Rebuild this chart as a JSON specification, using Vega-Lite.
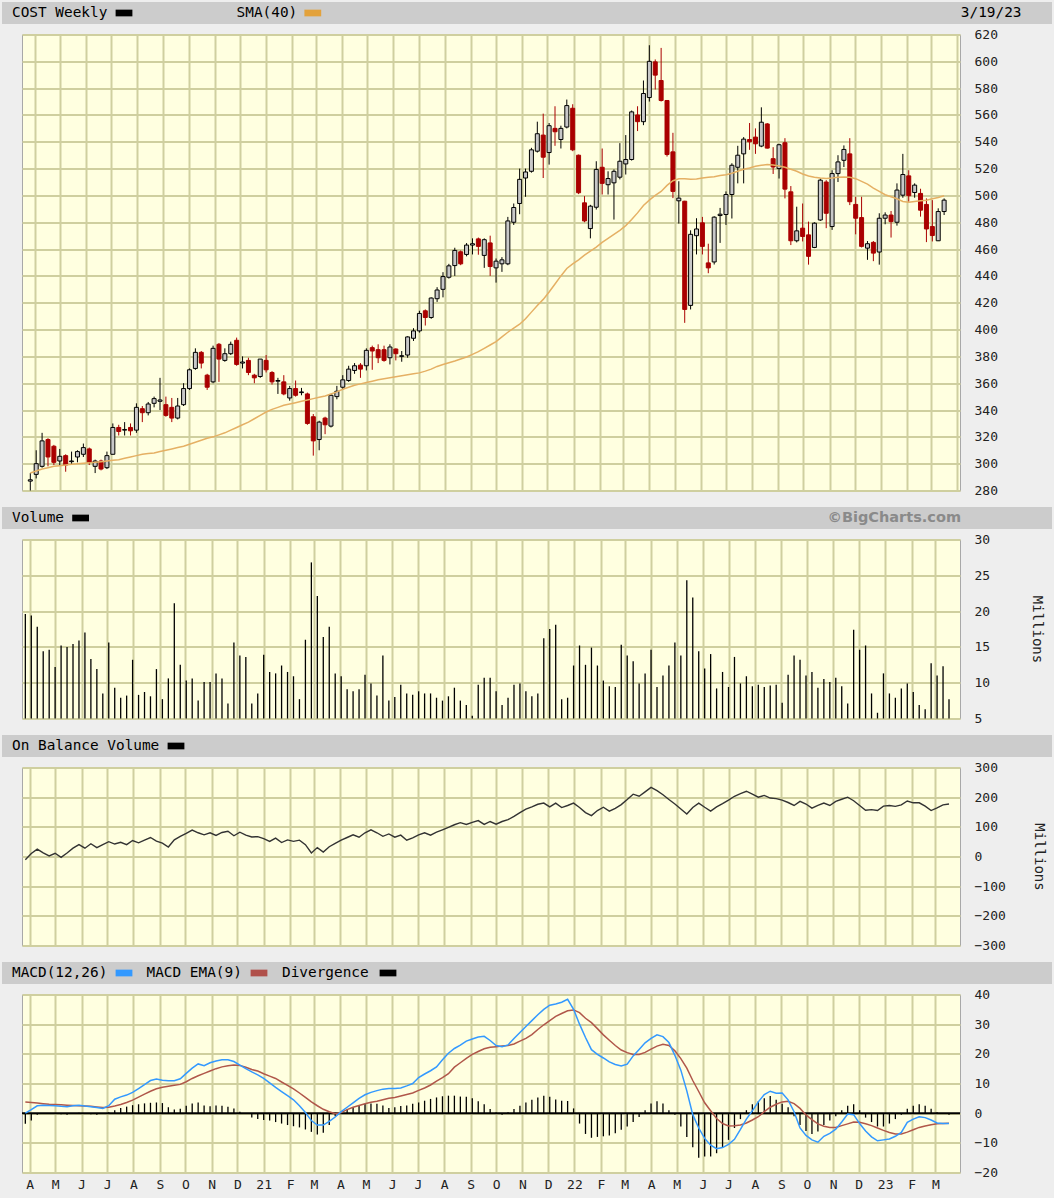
{
"$schema": "https://vega.github.io/schema/vega-lite/v6.json",
"background": "#eeeeee",
"padding": {"left": 2, "top": 2, "right": 2, "bottom": 6},
"config": {
  "view": {"stroke": null},
  "axis": {"labelFont": "DejaVu Sans Mono", "labelFontSize": 13, "labelColor": "#222222", "titleFont": "DejaVu Sans Mono", "titleFontSize": 14, "titleFontWeight": "normal", "titleColor": "#222222", "gridColor": "#cfcf9f", "gridWidth": 2, "gridOpacity": 1, "ticks": false, "domain": false, "labelOverlap": false},
  "axisY": {"labelPadding": 14, "labelAlign": "left", "labelOverlap": false, "labelFlush": false},
  "text": {"font": "DejaVu Sans Mono", "fontSize": 14.4, "color": "#000000"}
},
"datasets": {"w": [
{"d":"2020-03-27","o":287,"h":293,"l":280,"c":288,"sma":293,"vol":19.6,"obv":-11,"macd":0,"sig":3.8,"div":-3.6},
{"d":"2020-04-03","o":292,"h":310,"l":289,"c":300,"sma":294.5,"vol":19.4,"obv":10,"macd":1.2,"sig":3.6,"div":-2.5},
{"d":"2020-04-10","o":298,"h":323,"l":297,"c":317,"sma":296,"vol":17.8,"obv":25,"macd":2.5,"sig":3.4,"div":-0.5},
{"d":"2020-04-17","o":318,"h":319,"l":298,"c":305,"sma":297,"vol":14.4,"obv":12,"macd":2.7,"sig":3.2,"div":-0.3},
{"d":"2020-04-24","o":313,"h":314,"l":299,"c":301,"sma":298,"vol":14.6,"obv":2,"macd":2.6,"sig":3.0,"div":0},
{"d":"2020-05-01","o":302,"h":311,"l":299,"c":305.5,"sma":298.5,"vol":12.2,"obv":11,"macd":2.5,"sig":2.9,"div":-0.2},
{"d":"2020-05-08","o":306,"h":307,"l":294,"c":299,"sma":299,"vol":15.2,"obv":-3,"macd":2.3,"sig":2.8,"div":-0.4},
{"d":"2020-05-15","o":301.5,"h":309,"l":299,"c":302,"sma":299.5,"vol":15.0,"obv":12,"macd":2.2,"sig":2.7,"div":-0.5},
{"d":"2020-05-22","o":305,"h":310,"l":301,"c":309,"sma":300,"vol":15.4,"obv":28,"macd":2.5,"sig":2.6,"div":0},
{"d":"2020-05-29","o":307,"h":315,"l":305,"c":312,"sma":300.3,"vol":15.9,"obv":40,"macd":2.7,"sig":2.5,"div":0.1},
{"d":"2020-06-05","o":311,"h":312,"l":299,"c":301,"sma":300.6,"vol":17.0,"obv":28,"macd":2.4,"sig":2.4,"div":-0.3},
{"d":"2020-06-12","o":298,"h":303,"l":293,"c":302,"sma":301,"vol":13.3,"obv":43,"macd":2.2,"sig":2.3,"div":-0.4},
{"d":"2020-06-19","o":302,"h":303,"l":295,"c":296,"sma":301.5,"vol":11.9,"obv":30,"macd":1.9,"sig":2.1,"div":-0.5},
{"d":"2020-06-26","o":297,"h":309,"l":296,"c":306,"sma":302,"vol":8.5,"obv":40,"macd":1.6,"sig":1.9,"div":-0.3},
{"d":"2020-07-03","o":307,"h":330,"l":307,"c":327,"sma":302.5,"vol":15.6,"obv":50,"macd":2.5,"sig":2.0,"div":0.3},
{"d":"2020-07-10","o":327,"h":329,"l":321,"c":324,"sma":303,"vol":9.3,"obv":42,"macd":4.7,"sig":2.4,"div":1.0},
{"d":"2020-07-17","o":325,"h":331,"l":321,"c":325.5,"sma":304,"vol":7.9,"obv":48,"macd":5.5,"sig":2.9,"div":1.7},
{"d":"2020-07-24","o":327,"h":330,"l":321,"c":324.5,"sma":305,"vol":8.2,"obv":40,"macd":6.1,"sig":3.6,"div":2.2},
{"d":"2020-07-31","o":325,"h":345,"l":323,"c":342,"sma":306,"vol":13.2,"obv":54,"macd":7.0,"sig":4.4,"div":2.7},
{"d":"2020-08-07","o":341,"h":343,"l":331,"c":338,"sma":307,"vol":8.3,"obv":46,"macd":8.3,"sig":5.4,"div":3.0},
{"d":"2020-08-14","o":338,"h":346,"l":336,"c":344.5,"sma":307.5,"vol":8.7,"obv":55,"macd":9.6,"sig":6.4,"div":3.3},
{"d":"2020-08-21","o":345,"h":350,"l":342,"c":348.5,"sma":308,"vol":8.1,"obv":64,"macd":11.0,"sig":7.4,"div":3.5},
{"d":"2020-08-28","o":346.5,"h":364,"l":340,"c":347.5,"sma":309,"vol":11.9,"obv":52,"macd":11.5,"sig":8.2,"div":3.6},
{"d":"2020-09-04","o":344,"h":350,"l":335,"c":336,"sma":310,"vol":7.7,"obv":45,"macd":11.1,"sig":8.7,"div":3.4},
{"d":"2020-09-11","o":342,"h":349,"l":331,"c":334,"sma":311,"vol":10.6,"obv":32,"macd":10.9,"sig":9.1,"div":2.0},
{"d":"2020-09-18","o":334,"h":349,"l":333,"c":343,"sma":312,"vol":21.1,"obv":56,"macd":10.9,"sig":9.4,"div":1.2},
{"d":"2020-09-25","o":344,"h":360,"l":343,"c":356,"sma":313,"vol":12.5,"obv":68,"macd":11.6,"sig":9.7,"div":1.5},
{"d":"2020-10-02","o":356,"h":371,"l":355,"c":370,"sma":314.5,"vol":10.3,"obv":78,"macd":13.4,"sig":10.6,"div":2.5},
{"d":"2020-10-09","o":371,"h":386,"l":370,"c":383,"sma":316,"vol":10.6,"obv":89,"macd":15.2,"sig":11.7,"div":3.3},
{"d":"2020-10-16","o":383,"h":384,"l":371,"c":375,"sma":317.5,"vol":7.5,"obv":80,"macd":16.6,"sig":12.6,"div":3.6},
{"d":"2020-10-23","o":366,"h":367,"l":355,"c":357,"sma":319,"vol":10.1,"obv":73,"macd":16.0,"sig":13.4,"div":2.6},
{"d":"2020-10-30","o":361,"h":388,"l":360,"c":386,"sma":320,"vol":10.1,"obv":80,"macd":17.0,"sig":14.2,"div":2.3},
{"d":"2020-11-06","o":389,"h":390,"l":361,"c":378,"sma":321.5,"vol":11.3,"obv":71,"macd":17.6,"sig":15.0,"div":2.6},
{"d":"2020-11-13","o":377,"h":386,"l":376,"c":382,"sma":323,"vol":10.6,"obv":81,"macd":18.0,"sig":15.6,"div":2.5},
{"d":"2020-11-20","o":382,"h":391,"l":381,"c":389,"sma":325,"vol":7.1,"obv":85,"macd":18.0,"sig":16.0,"div":2.2},
{"d":"2020-11-27","o":392,"h":394,"l":373,"c":374,"sma":327,"vol":15.6,"obv":70,"macd":17.4,"sig":16.2,"div":1.6},
{"d":"2020-12-04","o":375,"h":380,"l":371,"c":375.8,"sma":329,"vol":13.8,"obv":82,"macd":16.2,"sig":16.1,"div":0.5},
{"d":"2020-12-11","o":377,"h":379,"l":366,"c":368,"sma":331,"vol":13.6,"obv":72,"macd":15.0,"sig":15.5,"div":-0.3},
{"d":"2020-12-18","o":366,"h":367,"l":360,"c":364,"sma":333.5,"vol":7.1,"obv":66,"macd":13.9,"sig":14.7,"div":-1.5},
{"d":"2020-12-25","o":365,"h":378,"l":364,"c":378,"sma":336,"vol":8.5,"obv":67,"macd":12.9,"sig":14.2,"div":-2.0},
{"d":"2021-01-01","o":377,"h":381,"l":368,"c":370,"sma":338.5,"vol":13.9,"obv":60,"macd":11.7,"sig":13.3,"div":-2.3},
{"d":"2021-01-08","o":368,"h":369,"l":359,"c":361,"sma":340.5,"vol":11.5,"obv":51,"macd":10.2,"sig":12.5,"div":-2.5},
{"d":"2021-01-15","o":361.5,"h":364,"l":352,"c":362,"sma":342,"vol":11.3,"obv":62,"macd":8.7,"sig":11.7,"div":-3.0},
{"d":"2021-01-22","o":361,"h":366,"l":351,"c":352,"sma":343.5,"vol":12.4,"obv":47,"macd":7.3,"sig":10.5,"div":-3.5},
{"d":"2021-01-29","o":349,"h":358,"l":347,"c":356,"sma":344.5,"vol":11.5,"obv":56,"macd":5.9,"sig":9.4,"div":-4.0},
{"d":"2021-02-05","o":356,"h":362,"l":350,"c":351,"sma":345.5,"vol":10.9,"obv":51,"macd":4.5,"sig":8.2,"div":-4.4},
{"d":"2021-02-12","o":353,"h":356.5,"l":351,"c":353.5,"sma":346.5,"vol":7.7,"obv":55,"macd":2.5,"sig":6.8,"div":-4.8},
{"d":"2021-02-19","o":352,"h":353,"l":329,"c":330,"sma":347.5,"vol":16.0,"obv":40,"macd":0.2,"sig":5.3,"div":-5.5},
{"d":"2021-02-26","o":335,"h":337,"l":306,"c":317,"sma":348.5,"vol":26.8,"obv":12,"macd":-2.5,"sig":3.8,"div":-6.3},
{"d":"2021-03-05","o":318,"h":332,"l":310,"c":331,"sma":349.5,"vol":22.1,"obv":30,"macd":-4.0,"sig":2.5,"div":-7.2},
{"d":"2021-03-12","o":334,"h":335,"l":322,"c":329,"sma":350.5,"vol":16.4,"obv":15,"macd":-4.0,"sig":1.3,"div":-6.6},
{"d":"2021-03-19","o":328,"h":352,"l":327,"c":351,"sma":352,"vol":17.8,"obv":33,"macd":-2.8,"sig":0.5,"div":-4.0},
{"d":"2021-03-26","o":350,"h":358,"l":348,"c":354,"sma":353.5,"vol":11.3,"obv":44,"macd":-1.3,"sig":-0.2,"div":-1.0},
{"d":"2021-04-02","o":357,"h":366,"l":355,"c":362.5,"sma":355.5,"vol":10.9,"obv":55,"macd":0.5,"sig":0.2,"div":0.3},
{"d":"2021-04-09","o":362,"h":373,"l":361,"c":370.5,"sma":357,"vol":9.1,"obv":64,"macd":2.0,"sig":1.2,"div":1.2},
{"d":"2021-04-16","o":369.5,"h":375,"l":367,"c":373,"sma":358.5,"vol":8.8,"obv":73,"macd":3.5,"sig":2.0,"div":2.0},
{"d":"2021-04-23","o":373.5,"h":375,"l":364,"c":370.5,"sma":359.5,"vol":9.1,"obv":65,"macd":5.0,"sig":2.6,"div":2.7},
{"d":"2021-04-30","o":373,"h":386,"l":369.5,"c":384.5,"sma":360.5,"vol":11.1,"obv":80,"macd":6.2,"sig":3.2,"div":3.1},
{"d":"2021-05-07","o":386.5,"h":388,"l":370,"c":384,"sma":361.5,"vol":9.9,"obv":90,"macd":7.0,"sig":3.7,"div":3.3},
{"d":"2021-05-14","o":385,"h":389,"l":375,"c":379,"sma":362.5,"vol":8.2,"obv":80,"macd":7.6,"sig":4.0,"div":3.2},
{"d":"2021-05-21","o":385,"h":388,"l":376,"c":377,"sma":363.3,"vol":13.8,"obv":68,"macd":8.1,"sig":4.5,"div":2.6},
{"d":"2021-05-28","o":379,"h":389,"l":374,"c":387,"sma":364,"vol":7.5,"obv":76,"macd":8.3,"sig":5.0,"div":1.7},
{"d":"2021-06-04","o":385.5,"h":386,"l":377,"c":382,"sma":364.8,"vol":8.0,"obv":65,"macd":8.3,"sig":5.3,"div":2.0},
{"d":"2021-06-11","o":380,"h":384,"l":376,"c":380.5,"sma":365.5,"vol":9.7,"obv":72,"macd":8.5,"sig":5.8,"div":2.4},
{"d":"2021-06-18","o":381,"h":395,"l":379,"c":394.5,"sma":366.3,"vol":8.5,"obv":55,"macd":9.2,"sig":6.3,"div":2.6},
{"d":"2021-06-25","o":393.5,"h":401,"l":391.5,"c":399,"sma":367,"vol":8.3,"obv":63,"macd":10.0,"sig":6.8,"div":3.2},
{"d":"2021-07-02","o":399,"h":414,"l":397.7,"c":412,"sma":367.7,"vol":8.8,"obv":73,"macd":12.0,"sig":7.7,"div":3.6},
{"d":"2021-07-09","o":414,"h":415,"l":403,"c":409,"sma":369,"vol":8.5,"obv":80,"macd":13.2,"sig":8.5,"div":4.2},
{"d":"2021-07-16","o":409,"h":424,"l":408,"c":423.5,"sma":370.5,"vol":8.5,"obv":72,"macd":14.3,"sig":9.5,"div":4.8},
{"d":"2021-07-23","o":423,"h":431.6,"l":420.6,"c":429.5,"sma":372.5,"vol":7.9,"obv":82,"macd":15.6,"sig":10.8,"div":5.3},
{"d":"2021-07-30","o":430,"h":442.8,"l":424,"c":439.5,"sma":374,"vol":7.5,"obv":90,"macd":18.0,"sig":12.0,"div":5.7},
{"d":"2021-08-06","o":439,"h":449,"l":438,"c":447.5,"sma":375.3,"vol":8.1,"obv":98,"macd":20.2,"sig":13.3,"div":5.9},
{"d":"2021-08-13","o":447.7,"h":461,"l":440,"c":459,"sma":376.5,"vol":9.3,"obv":107,"macd":21.8,"sig":15.5,"div":5.9},
{"d":"2021-08-20","o":458,"h":459,"l":448,"c":449,"sma":378,"vol":7.5,"obv":114,"macd":22.9,"sig":17.0,"div":5.6},
{"d":"2021-08-27","o":456,"h":464.5,"l":454.6,"c":463,"sma":379.5,"vol":6.9,"obv":108,"macd":24.3,"sig":18.5,"div":5.5},
{"d":"2021-09-03","o":463,"h":468,"l":456,"c":464,"sma":381.5,"vol":5.4,"obv":115,"macd":25.0,"sig":19.8,"div":5.0},
{"d":"2021-09-10","o":467.6,"h":468.6,"l":455.8,"c":462,"sma":383.5,"vol":9.7,"obv":121,"macd":25.7,"sig":20.8,"div":4.0},
{"d":"2021-09-17","o":455.3,"h":468,"l":446,"c":467,"sma":386,"vol":10.7,"obv":108,"macd":25.9,"sig":21.7,"div":3.0},
{"d":"2021-09-24","o":464.6,"h":470,"l":440,"c":447,"sma":388.5,"vol":10.7,"obv":118,"macd":24.5,"sig":22.2,"div":1.4},
{"d":"2021-10-01","o":446,"h":453,"l":435,"c":451,"sma":391,"vol":8.8,"obv":109,"macd":22.8,"sig":22.4,"div":0.2},
{"d":"2021-10-08","o":449,"h":454,"l":443,"c":452,"sma":394.5,"vol":6.9,"obv":118,"macd":22.4,"sig":22.6,"div":-0.5},
{"d":"2021-10-15","o":449,"h":484,"l":448,"c":481,"sma":398,"vol":7.9,"obv":124,"macd":23.0,"sig":22.8,"div":0.3},
{"d":"2021-10-22","o":480,"h":494,"l":478,"c":491,"sma":401,"vol":9.7,"obv":135,"macd":25.2,"sig":23.3,"div":1.4},
{"d":"2021-10-29","o":494,"h":520,"l":486,"c":512,"sma":404,"vol":9.9,"obv":148,"macd":27.2,"sig":24.3,"div":2.5},
{"d":"2021-11-05","o":513,"h":520,"l":499,"c":517.5,"sma":408,"vol":8.8,"obv":160,"macd":29.2,"sig":25.2,"div":3.6},
{"d":"2021-11-12","o":518,"h":535.5,"l":517,"c":534,"sma":413,"vol":8.1,"obv":167,"macd":31.2,"sig":26.5,"div":4.5},
{"d":"2021-11-19","o":533,"h":555,"l":532,"c":546,"sma":418,"vol":8.5,"obv":176,"macd":33.2,"sig":28.2,"div":5.3},
{"d":"2021-11-26","o":545,"h":561,"l":513,"c":528.5,"sma":422.5,"vol":16.2,"obv":180,"macd":35.0,"sig":29.8,"div":5.9},
{"d":"2021-12-03","o":532,"h":554,"l":523,"c":552,"sma":428,"vol":17.5,"obv":167,"macd":36.4,"sig":31.2,"div":5.5},
{"d":"2021-12-10","o":550,"h":566.5,"l":537,"c":547.5,"sma":434,"vol":18.1,"obv":180,"macd":36.8,"sig":32.6,"div":4.6},
{"d":"2021-12-17","o":541.7,"h":552,"l":535,"c":550,"sma":440,"vol":7.7,"obv":165,"macd":37.4,"sig":33.6,"div":4.2},
{"d":"2021-12-24","o":551,"h":571.5,"l":550,"c":567,"sma":445.5,"vol":7.9,"obv":172,"macd":38.4,"sig":34.5,"div":4.1},
{"d":"2021-12-31","o":565,"h":568,"l":533,"c":534,"sma":449,"vol":12.4,"obv":180,"macd":35.0,"sig":34.8,"div":1.6},
{"d":"2022-01-07","o":530,"h":530.5,"l":501,"c":502,"sma":452,"vol":15.2,"obv":165,"macd":30.0,"sig":33.9,"div":-3.5},
{"d":"2022-01-14","o":494.5,"h":499.5,"l":480,"c":481,"sma":455.5,"vol":12.5,"obv":148,"macd":25.5,"sig":32.0,"div":-7.0},
{"d":"2022-01-21","o":475.3,"h":493,"l":468,"c":492,"sma":458.5,"vol":14.9,"obv":138,"macd":21.4,"sig":30.5,"div":-8.3},
{"d":"2022-01-28","o":491.2,"h":525.5,"l":489.5,"c":519.4,"sma":461.5,"vol":12.4,"obv":155,"macd":19.8,"sig":28.5,"div":-8.0},
{"d":"2022-02-04","o":521,"h":535,"l":500.7,"c":509,"sma":465,"vol":10.3,"obv":166,"macd":18.6,"sig":26.4,"div":-7.8},
{"d":"2022-02-11","o":508,"h":518,"l":500.7,"c":512.6,"sma":468,"vol":9.5,"obv":153,"macd":17.3,"sig":24.6,"div":-7.5},
{"d":"2022-02-18","o":509.4,"h":519.4,"l":482,"c":518,"sma":471,"vol":9.4,"obv":162,"macd":16.4,"sig":22.8,"div":-6.8},
{"d":"2022-02-25","o":513.6,"h":539,"l":512,"c":525.5,"sma":474,"vol":15.3,"obv":175,"macd":15.9,"sig":21.3,"div":-5.6},
{"d":"2022-03-04","o":523.5,"h":545,"l":515.6,"c":526.8,"sma":477.5,"vol":13.8,"obv":192,"macd":16.5,"sig":20.4,"div":-4.5},
{"d":"2022-03-11","o":526.8,"h":563.3,"l":526,"c":562.3,"sma":482,"vol":13.0,"obv":210,"macd":19.3,"sig":19.8,"div":-3.0},
{"d":"2022-03-18","o":560,"h":566.5,"l":548,"c":555,"sma":487,"vol":9.9,"obv":203,"macd":21.5,"sig":19.8,"div":-1.3},
{"d":"2022-03-25","o":555,"h":585.7,"l":552.4,"c":576,"sma":492.5,"vol":11.3,"obv":218,"macd":23.7,"sig":20.5,"div":1.0},
{"d":"2022-04-01","o":573,"h":612,"l":570,"c":600,"sma":496.5,"vol":14.6,"obv":233,"macd":25.2,"sig":21.6,"div":3.3},
{"d":"2022-04-08","o":599.6,"h":601.4,"l":579,"c":589.7,"sma":500,"vol":9.4,"obv":222,"macd":26.4,"sig":22.6,"div":4.0},
{"d":"2022-04-15","o":585.7,"h":610,"l":570,"c":570.8,"sma":503,"vol":11.0,"obv":208,"macd":25.8,"sig":23.2,"div":3.3},
{"d":"2022-04-22","o":570.8,"h":571,"l":529,"c":530.5,"sma":507.5,"vol":12.4,"obv":192,"macd":23.8,"sig":22.8,"div":1.0},
{"d":"2022-04-29","o":532.5,"h":546.7,"l":498,"c":503,"sma":511,"vol":15.6,"obv":177,"macd":19.5,"sig":21.0,"div":-0.5},
{"d":"2022-05-06","o":496,"h":510.6,"l":479,"c":498,"sma":512.5,"vol":13.8,"obv":160,"macd":14.5,"sig":18.4,"div":-4.5},
{"d":"2022-05-13","o":495.7,"h":496,"l":405,"c":415,"sma":512.5,"vol":24.3,"obv":143,"macd":7.5,"sig":15.2,"div":-8.0},
{"d":"2022-05-20","o":418,"h":474,"l":415,"c":471,"sma":512,"vol":21.9,"obv":165,"macd":-0.5,"sig":11.0,"div":-11.5},
{"d":"2022-05-27","o":470,"h":483,"l":456,"c":475,"sma":512.3,"vol":14.4,"obv":180,"macd":-5.0,"sig":7.3,"div":-15.0},
{"d":"2022-06-03","o":479.6,"h":484,"l":456,"c":462,"sma":513,"vol":12.0,"obv":166,"macd":-8.5,"sig":3.5,"div":-14.6},
{"d":"2022-06-10","o":449.7,"h":464,"l":442,"c":446,"sma":513.5,"vol":14.0,"obv":153,"macd":-10.8,"sig":0.8,"div":-14.6},
{"d":"2022-06-17","o":450.4,"h":484.5,"l":448.5,"c":483.8,"sma":514,"vol":9.2,"obv":167,"macd":-12.0,"sig":-1.8,"div":-13.5},
{"d":"2022-06-24","o":485,"h":490.7,"l":464.6,"c":486,"sma":514.8,"vol":11.5,"obv":178,"macd":-11.6,"sig":-3.5,"div":-11.5},
{"d":"2022-07-01","o":485.8,"h":503,"l":478,"c":500.7,"sma":515.5,"vol":9.4,"obv":190,"macd":-10.5,"sig":-4.3,"div":-9.0},
{"d":"2022-07-08","o":500.7,"h":524,"l":482.8,"c":522.5,"sma":516.5,"vol":13.6,"obv":203,"macd":-8.8,"sig":-4.2,"div":-5.0},
{"d":"2022-07-15","o":521,"h":537,"l":509,"c":530,"sma":518,"vol":9.9,"obv":212,"macd":-5.5,"sig":-4.0,"div":-2.0},
{"d":"2022-07-22","o":531,"h":543.5,"l":509,"c":542,"sma":519.5,"vol":10.9,"obv":220,"macd":-2.0,"sig":-3.3,"div":1.0},
{"d":"2022-07-29","o":541.7,"h":554,"l":534,"c":540,"sma":520.5,"vol":9.5,"obv":210,"macd":0.8,"sig":-2.3,"div":3.0},
{"d":"2022-08-05","o":543.5,"h":550,"l":531,"c":538.5,"sma":521.8,"vol":9.7,"obv":200,"macd":3.8,"sig":-1.2,"div":4.0},
{"d":"2022-08-12","o":536.8,"h":565.7,"l":536,"c":554.6,"sma":522.5,"vol":9.4,"obv":206,"macd":6.3,"sig":0.5,"div":5.0},
{"d":"2022-08-19","o":553.3,"h":554,"l":535,"c":535.3,"sma":523,"vol":9.6,"obv":197,"macd":7.4,"sig":2.0,"div":5.8},
{"d":"2022-08-26","o":527.4,"h":536,"l":516,"c":521.2,"sma":522.7,"vol":9.7,"obv":195,"macd":6.7,"sig":3.0,"div":4.5},
{"d":"2022-09-02","o":520,"h":538.5,"l":512.6,"c":537.8,"sma":522,"vol":7.2,"obv":190,"macd":6.8,"sig":3.8,"div":3.2},
{"d":"2022-09-09","o":539.3,"h":542.7,"l":497.8,"c":504.7,"sma":521,"vol":11.1,"obv":182,"macd":4.5,"sig":4.0,"div":2.0},
{"d":"2022-09-16","o":502.7,"h":507,"l":463,"c":466.2,"sma":519.5,"vol":13.8,"obv":172,"macd":0.5,"sig":3.2,"div":-1.0},
{"d":"2022-09-23","o":466.2,"h":491.6,"l":465,"c":473.6,"sma":518,"vol":13.2,"obv":186,"macd":-5.0,"sig":1.6,"div":-4.0},
{"d":"2022-09-30","o":475.6,"h":494,"l":465.7,"c":469.4,"sma":516,"vol":11.0,"obv":177,"macd":-7.5,"sig":-0.6,"div":-6.0},
{"d":"2022-10-07","o":470.6,"h":480.5,"l":448.4,"c":454.6,"sma":514.5,"vol":11.5,"obv":163,"macd":-9.0,"sig":-2.2,"div":-7.0},
{"d":"2022-10-14","o":461.2,"h":480,"l":460.7,"c":479.3,"sma":513.5,"vol":9.3,"obv":172,"macd":-9.8,"sig":-3.6,"div":-6.2},
{"d":"2022-10-21","o":481.7,"h":512.6,"l":481,"c":511.4,"sma":513,"vol":10.5,"obv":180,"macd":-7.8,"sig":-4.4,"div":-4.0},
{"d":"2022-10-28","o":510,"h":511.4,"l":475.6,"c":486.7,"sma":512.6,"vol":10.1,"obv":172,"macd":-6.8,"sig":-4.8,"div":-2.5},
{"d":"2022-11-04","o":476.8,"h":518.8,"l":474.3,"c":516.3,"sma":513,"vol":10.7,"obv":186,"macd":-5.4,"sig":-4.8,"div":-1.0},
{"d":"2022-11-11","o":516.3,"h":530,"l":510,"c":525,"sma":513.5,"vol":9.5,"obv":193,"macd":-3.0,"sig":-4.2,"div":1.0},
{"d":"2022-11-18","o":526.2,"h":537.3,"l":521.2,"c":534.3,"sma":513.8,"vol":7.1,"obv":200,"macd":-0.3,"sig":-3.6,"div":2.5},
{"d":"2022-11-25","o":531,"h":542.7,"l":492.8,"c":495.3,"sma":513.5,"vol":17.4,"obv":188,"macd":-0.5,"sig":-3.0,"div":3.0},
{"d":"2022-12-02","o":493.3,"h":499,"l":471,"c":483,"sma":512.5,"vol":14.6,"obv":172,"macd":-3.5,"sig":-3.1,"div":1.0},
{"d":"2022-12-09","o":483.5,"h":499,"l":461.2,"c":462,"sma":510.5,"vol":15.2,"obv":156,"macd":-6.0,"sig":-3.6,"div":-1.5},
{"d":"2022-12-16","o":460.7,"h":466,"l":452,"c":464,"sma":508.5,"vol":8.5,"obv":158,"macd":-8.0,"sig":-4.2,"div":-3.0},
{"d":"2022-12-23","o":465,"h":466,"l":451,"c":457,"sma":505.5,"vol":5.8,"obv":155,"macd":-9.3,"sig":-5.0,"div":-4.5},
{"d":"2022-12-30","o":457.8,"h":486.7,"l":448.4,"c":483,"sma":503,"vol":11.3,"obv":170,"macd":-9.0,"sig":-5.8,"div":-4.5},
{"d":"2023-01-06","o":483,"h":487.4,"l":478.5,"c":485.4,"sma":500.5,"vol":8.5,"obv":172,"macd":-8.7,"sig":-6.5,"div":-3.5},
{"d":"2023-01-13","o":485.4,"h":488.4,"l":468.6,"c":480.5,"sma":499,"vol":7.9,"obv":169,"macd":-7.8,"sig":-7.0,"div":-2.0},
{"d":"2023-01-20","o":480,"h":509,"l":477.5,"c":504,"sma":497.5,"vol":9.2,"obv":174,"macd":-6.5,"sig":-7.0,"div":-0.5},
{"d":"2023-01-27","o":500.2,"h":531,"l":498.3,"c":515.6,"sma":495.5,"vol":9.9,"obv":187,"macd":-3.1,"sig":-6.4,"div":1.5},
{"d":"2023-02-03","o":514.6,"h":518.8,"l":495.3,"c":499.8,"sma":495,"vol":8.7,"obv":181,"macd":-2.0,"sig":-5.6,"div":2.5},
{"d":"2023-02-10","o":502.2,"h":509,"l":498.3,"c":507.7,"sma":495.5,"vol":6.9,"obv":181,"macd":-1.2,"sig":-4.8,"div":3.0},
{"d":"2023-02-17","o":501.5,"h":505,"l":484.2,"c":489,"sma":496,"vol":6.3,"obv":170,"macd":-1.5,"sig":-4.3,"div":2.5},
{"d":"2023-02-24","o":493.3,"h":497.8,"l":465.2,"c":475,"sma":496.5,"vol":12.7,"obv":155,"macd":-2.3,"sig":-3.9,"div":1.5},
{"d":"2023-03-03","o":476.8,"h":496.5,"l":465.7,"c":470.1,"sma":497.5,"vol":11.0,"obv":164,"macd":-3.3,"sig":-3.6,"div":0.3},
{"d":"2023-03-10","o":466.2,"h":490.4,"l":466,"c":488,"sma":498.5,"vol":12.3,"obv":174,"macd":-3.5,"sig":-3.5,"div":-0.3},
{"d":"2023-03-17","o":488,"h":497.8,"l":485.4,"c":496.5,"sma":499.8,"vol":7.7,"obv":177,"macd":-3.5,"sig":-3.4,"div":-0.5}
]},
"spacing": 10.5,
"bounds": "flush",
"resolve": {"scale": {"x": "independent", "y": "independent"}},
"vconcat": [
  {
   "width": 1030, "height": 22,
   "data": {"values": [{}]},
   "encoding": {"y": {"datum": 11, "type": "quantitative", "scale": {"domain": [0, 22], "nice": false, "zero": false}, "axis": null}},
   "layer": [
    {"mark": {"type": "rect", "color": "#cccccc"}, "encoding": {"x": {"datum": -20, "type": "quantitative", "scale": {"domain": [0, 1030], "nice": false, "zero": false}, "axis": null}, "x2": {"datum": 1030}, "y": {"datum": 0, "type": "quantitative"}, "y2": {"datum": 22}}},
    {"mark": {"type": "text", "align": "left", "baseline": "middle"}, "encoding": {"x": {"datum": -10, "type": "quantitative"}, "text": {"value": "COST Weekly"}}},
    {"mark": {"type": "point", "shape": "M-1,-0.4L1,-0.4L1,0.4L-1,0.4Z", "size": 282, "filled": true, "opacity": 1, "color": "#000000"}, "encoding": {"x": {"datum": 102, "type": "quantitative"}}},
    {"mark": {"type": "text", "align": "left", "baseline": "middle"}, "encoding": {"x": {"datum": 214.6, "type": "quantitative"}, "text": {"value": "SMA(40)"}}},
    {"mark": {"type": "point", "shape": "M-1,-0.4L1,-0.4L1,0.4L-1,0.4Z", "size": 282, "filled": true, "opacity": 1, "color": "#e3a23c"}, "encoding": {"x": {"datum": 290.8, "type": "quantitative"}}},
    {"mark": {"type": "text", "align": "right", "baseline": "middle"}, "encoding": {"x": {"datum": 999.5, "type": "quantitative"}, "text": {"value": "3/19/23"}}}
   ]
  },
  {
   "width": 938, "height": 456,
   "view": {"fill": "#ffffe0", "stroke": "#a8a8a8"},
   "data": {"name": "w"},
   "encoding": {"x": {"field": "d", "type": "temporal", "scale": {"type": "utc", "nice": false, "domain": [{"year": 2020, "month": 3, "date": 23, "hours": 2, "utc": true}, {"year": 2023, "month": 3, "date": 29, "hours": 22, "utc": true}]}, "axis": {"grid": true, "labels": false, "title": null, "tickCount": {"interval": "month", "step": 1}}}},
   "layer": [
    {"mark": {"type": "rule", "strokeWidth": 1}, "encoding": {"y": {"field": "l", "type": "quantitative", "scale": {"domain": [280, 620], "zero": false, "nice": false}, "axis": {"orient": "right", "values": [280,300,320,340,360,380,400,420,440,460,480,500,520,540,560,580,600,620], "grid": true, "title": null, "labelOverlap": false}}, "y2": {"field": "h"}, "color": {"condition": {"test": "datum.c >= datum.o", "value": "#000000"}, "value": "#aa0000"}}},
    {"mark": {"type": "bar", "width": 4, "strokeWidth": 1}, "encoding": {"y": {"field": "o", "type": "quantitative", "axis": {"orient": "right", "values": [280,300,320,340,360,380,400,420,440,460,480,500,520,540,560,580,600,620], "grid": true, "title": null, "labelOverlap": false}}, "y2": {"field": "c"}, "fill": {"condition": {"test": "datum.c >= datum.o", "value": "#c8c8c8"}, "value": "#aa0000"}, "stroke": {"condition": {"test": "datum.c >= datum.o", "value": "#000000"}, "value": "#aa0000"}}},
    {"mark": {"type": "line", "color": "#e5b064", "strokeWidth": 1.5}, "encoding": {"y": {"field": "sma", "type": "quantitative", "axis": {"orient": "right", "values": [280,300,320,340,360,380,400,420,440,460,480,500,520,540,560,580,600,620], "grid": true, "title": null, "labelOverlap": false}}}}
   ]
  },
  {
   "width": 1030, "height": 28,
   "data": {"values": [{}]},
   "encoding": {"y": {"datum": 11, "type": "quantitative", "scale": {"domain": [0, 28], "nice": false, "zero": false}, "axis": null}},
   "layer": [
    {"mark": {"type": "rect", "color": "#cccccc"}, "encoding": {"x": {"datum": -20, "type": "quantitative", "scale": {"domain": [0, 1030], "nice": false, "zero": false}, "axis": null}, "x2": {"datum": 1030}, "y": {"datum": 0, "type": "quantitative"}, "y2": {"datum": 22}}},
    {"mark": {"type": "text", "align": "left", "baseline": "middle"}, "encoding": {"x": {"datum": -10, "type": "quantitative"}, "text": {"value": "Volume"}}},
    {"mark": {"type": "point", "shape": "M-1,-0.4L1,-0.4L1,0.4L-1,0.4Z", "size": 282, "filled": true, "opacity": 1, "color": "#000000"}, "encoding": {"x": {"datum": 58.6, "type": "quantitative"}}},
    {"mark": {"type": "text", "align": "right", "baseline": "middle", "font": "DejaVu Sans", "fontWeight": "bold", "fontSize": 14.5, "color": "#8a8a8a"}, "encoding": {"x": {"datum": 939, "type": "quantitative"}, "text": {"value": "©BigCharts.com"}}}
   ]
  },
  {
   "width": 938, "height": 179,
   "view": {"fill": "#ffffe0", "stroke": "#a8a8a8"},
   "data": {"name": "w"},
   "mark": {"type": "rule", "strokeWidth": 1.3, "color": "#000000"},
   "encoding": {
    "x": {"field": "d", "type": "temporal", "scale": {"type": "utc", "nice": false, "domain": [{"year": 2020, "month": 3, "date": 23, "hours": 2, "utc": true}, {"year": 2023, "month": 3, "date": 29, "hours": 22, "utc": true}]}, "axis": {"grid": true, "labels": false, "title": null, "tickCount": {"interval": "month", "step": 1}}},
    "y": {"field": "vol", "type": "quantitative", "scale": {"domain": [5, 30], "zero": false, "nice": false}, "axis": {"orient": "right", "values": [5,10,15,20,25,30], "grid": true, "title": "Millions", "titleAngle": 90, "titlePadding": 40, "labelOverlap": false}},
    "y2": {"datum": 5}
   }
  },
  {
   "width": 1030, "height": 28,
   "data": {"values": [{}]},
   "encoding": {"y": {"datum": 11, "type": "quantitative", "scale": {"domain": [0, 28], "nice": false, "zero": false}, "axis": null}},
   "layer": [
    {"mark": {"type": "rect", "color": "#cccccc"}, "encoding": {"x": {"datum": -20, "type": "quantitative", "scale": {"domain": [0, 1030], "nice": false, "zero": false}, "axis": null}, "x2": {"datum": 1030}, "y": {"datum": 0, "type": "quantitative"}, "y2": {"datum": 22}}},
    {"mark": {"type": "text", "align": "left", "baseline": "middle"}, "encoding": {"x": {"datum": -10, "type": "quantitative"}, "text": {"value": "On Balance Volume"}}},
    {"mark": {"type": "point", "shape": "M-1,-0.4L1,-0.4L1,0.4L-1,0.4Z", "size": 282, "filled": true, "opacity": 1, "color": "#000000"}, "encoding": {"x": {"datum": 154, "type": "quantitative"}}}
   ]
  },
  {
   "width": 938, "height": 178,
   "view": {"fill": "#ffffe0", "stroke": "#a8a8a8"},
   "data": {"name": "w"},
   "mark": {"type": "line", "strokeWidth": 1.4, "color": "#333333"},
   "encoding": {
    "x": {"field": "d", "type": "temporal", "scale": {"type": "utc", "nice": false, "domain": [{"year": 2020, "month": 3, "date": 23, "hours": 2, "utc": true}, {"year": 2023, "month": 3, "date": 29, "hours": 22, "utc": true}]}, "axis": {"grid": true, "labels": false, "title": null, "tickCount": {"interval": "month", "step": 1}}},
    "y": {"field": "obv", "type": "quantitative", "scale": {"domain": [-300, 300], "zero": false, "nice": false}, "axis": {"orient": "right", "values": [-300,-200,-100,0,100,200,300], "grid": true, "title": "Millions", "titleAngle": 90, "titlePadding": 26, "labelOverlap": false}}
   }
  },
  {
   "width": 1030, "height": 28,
   "data": {"values": [{}]},
   "encoding": {"y": {"datum": 11, "type": "quantitative", "scale": {"domain": [0, 28], "nice": false, "zero": false}, "axis": null}},
   "layer": [
    {"mark": {"type": "rect", "color": "#cccccc"}, "encoding": {"x": {"datum": -20, "type": "quantitative", "scale": {"domain": [0, 1030], "nice": false, "zero": false}, "axis": null}, "x2": {"datum": 1030}, "y": {"datum": 0, "type": "quantitative"}, "y2": {"datum": 22}}},
    {"mark": {"type": "text", "align": "left", "baseline": "middle"}, "encoding": {"x": {"datum": -10, "type": "quantitative"}, "text": {"value": "MACD(12,26)"}}},
    {"mark": {"type": "point", "shape": "M-1,-0.4L1,-0.4L1,0.4L-1,0.4Z", "size": 282, "filled": true, "opacity": 1, "color": "#3399ff"}, "encoding": {"x": {"datum": 102, "type": "quantitative"}}},
    {"mark": {"type": "text", "align": "left", "baseline": "middle"}, "encoding": {"x": {"datum": 124.5, "type": "quantitative"}, "text": {"value": "MACD EMA(9)"}}},
    {"mark": {"type": "point", "shape": "M-1,-0.4L1,-0.4L1,0.4L-1,0.4Z", "size": 282, "filled": true, "opacity": 1, "color": "#b0504a"}, "encoding": {"x": {"datum": 237, "type": "quantitative"}}},
    {"mark": {"type": "text", "align": "left", "baseline": "middle"}, "encoding": {"x": {"datum": 260, "type": "quantitative"}, "text": {"value": "Divergence"}}},
    {"mark": {"type": "point", "shape": "M-1,-0.4L1,-0.4L1,0.4L-1,0.4Z", "size": 282, "filled": true, "opacity": 1, "color": "#000000"}, "encoding": {"x": {"datum": 366, "type": "quantitative"}}}
   ]
  },
  {
   "width": 938, "height": 178,
   "view": {"fill": "#ffffe0", "stroke": "#a8a8a8"},
   "layer": [
    {"data": {"name": "w"}, "mark": {"type": "rule", "strokeWidth": 1.3, "color": "#000000"},
     "encoding": {
      "x": {"field": "d", "type": "temporal", "scale": {"type": "utc", "nice": false, "domain": [{"year": 2020, "month": 3, "date": 23, "hours": 2, "utc": true}, {"year": 2023, "month": 3, "date": 29, "hours": 22, "utc": true}]}, "axis": {"grid": true, "labels": true, "title": null, "labelPadding": 6, "labelOverlap": false, "labelFlush": false, "tickCount": {"interval": "month", "step": 1}, "labelExpr": "utcmonth(datum.value) == 0 ? utcFormat(datum.value, '%y') : substring(utcFormat(datum.value, '%b'), 0, 1)"}},
      "y": {"field": "div", "type": "quantitative", "scale": {"domain": [-20, 40], "zero": false, "nice": false}, "axis": {"orient": "right", "values": [-20,-10,0,10,20,30,40], "grid": true, "title": null, "labelOverlap": false}},
      "y2": {"datum": 0}
     }},
    {"data": {"values": [{}]}, "mark": {"type": "rule", "strokeWidth": 2, "color": "#000000"}, "encoding": {"y": {"datum": 0, "type": "quantitative", "axis": {"orient": "right", "values": [-20,-10,0,10,20,30,40], "grid": true, "title": null, "labelOverlap": false}}}},
    {"data": {"name": "w"}, "mark": {"type": "line", "strokeWidth": 1.5, "color": "#b0574a"}, "encoding": {"x": {"field": "d", "type": "temporal"}, "y": {"field": "sig", "type": "quantitative", "axis": {"orient": "right", "values": [-20,-10,0,10,20,30,40], "grid": true, "title": null, "labelOverlap": false}}}},
    {"data": {"name": "w"}, "mark": {"type": "line", "strokeWidth": 1.5, "color": "#3399ff"}, "encoding": {"x": {"field": "d", "type": "temporal"}, "y": {"field": "macd", "type": "quantitative", "axis": {"orient": "right", "values": [-20,-10,0,10,20,30,40], "grid": true, "title": null, "labelOverlap": false}}}}
   ]
  }
]
}
